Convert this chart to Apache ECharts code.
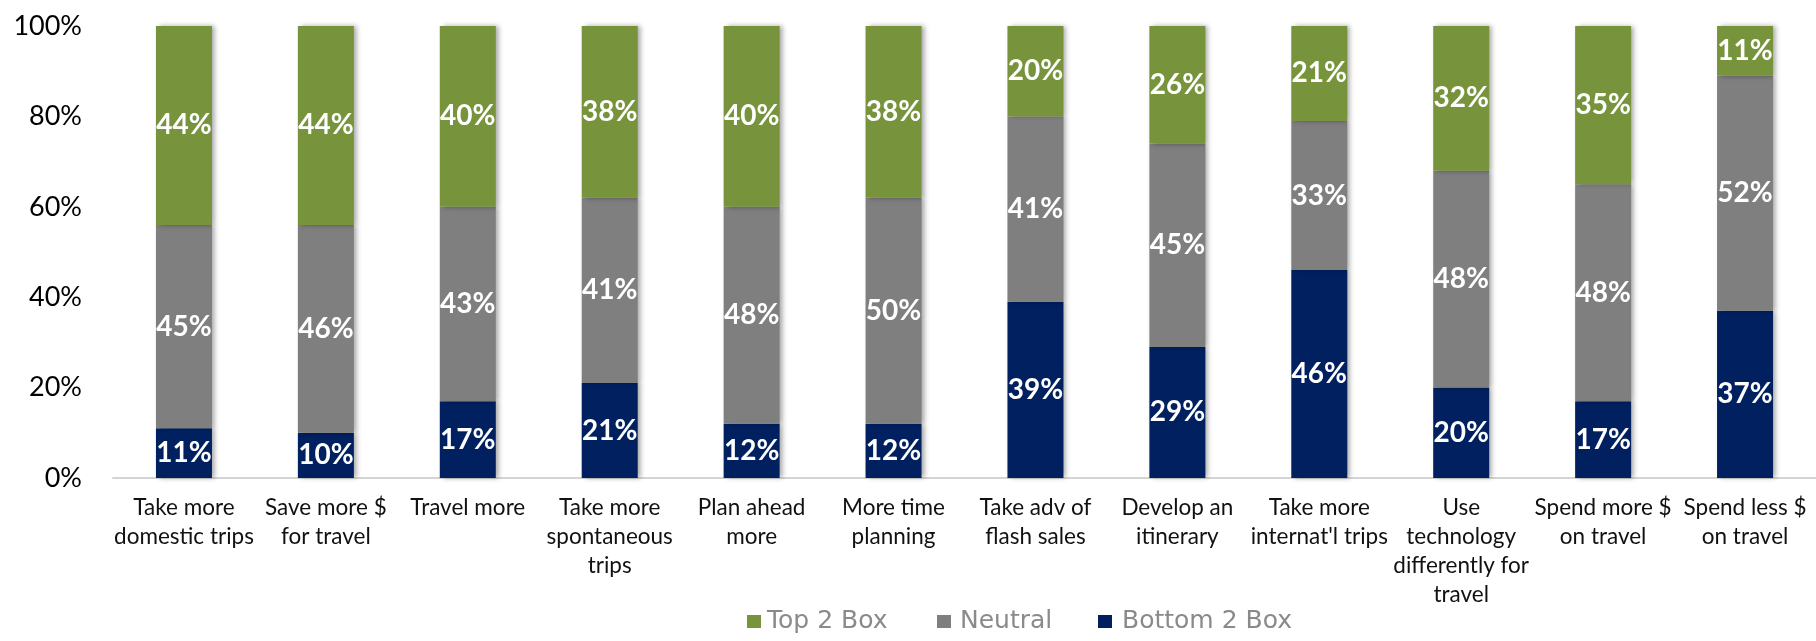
<!DOCTYPE html>
<html>
<head>
<meta charset="utf-8">
<script src="https://cdn.jsdelivr.net/npm/echarts@6/dist/echarts.min.js"></script>
<style>
html,body{margin:0;padding:0;background:#fff;}
#chart{width:1816px;height:641px;}
</style>
</head>
<body>
<div id="chart"></div>
<script>
const categories = [
  "Take more\ndomestic trips",
  "Save more $\nfor travel",
  "Travel more",
  "Take more\nspontaneous\ntrips",
  "Plan ahead\nmore",
  "More time\nplanning",
  "Take adv of\nflash sales",
  "Develop an\nitinerary",
  "Take more\ninternat'l trips",
  "Use\ntechnology\ndifferently for\ntravel",
  "Spend more $\non travel",
  "Spend less $\non travel"
];
const bottom2Box = [11, 10, 17, 21, 12, 12, 39, 29, 46, 20, 17, 37];
const neutral    = [45, 46, 43, 41, 48, 50, 41, 45, 33, 48, 48, 52];
const top2Box    = [44, 44, 40, 38, 40, 38, 20, 26, 21, 32, 35, 11];
const yTicks = [0, 20, 40, 60, 80, 100];

const colors = { top: '#77933C', neutral: '#7F7F7F', bottom: '#002060', legendTop: '#6E9C1A' };
const font = 'Lato, "Open Sans", sans-serif';

function barSeries(name, data, color) {
  return {
    name: name,
    type: 'bar',
    stack: 'total',
    barWidth: 56,
    data: data,
    itemStyle: {
      color: color,
      shadowColor: 'rgba(0,0,0,0.35)',
      shadowBlur: 5,
      shadowOffsetX: 3,
      shadowOffsetY: 0
    },
    label: {
      show: true,
      position: 'inside',
      formatter: '{c}%',
      color: '#ffffff',
      fontFamily: font,
      fontWeight: 'bold',
      fontSize: 28
    }
  };
}

function legendAt(left, name, padLeft) {
  return {
    data: [name],
    left: left,
    top: 609,
    padding: 0,
    itemWidth: 14,
    itemHeight: 13,
    icon: 'rect',
    textStyle: {
      fontFamily: '"DejaVu Sans", "Liberation Sans", Arial, sans-serif',
      fontSize: 25,
      color: '#8a8a8a',
      padding: [0, 0, 0, padLeft]
    }
  };
}

const chart = echarts.init(document.getElementById('chart'), null, { renderer: 'canvas' });
chart.setOption({
  animation: false,
  backgroundColor: '#ffffff',
  grid: { left: 113, right: -6, top: 26, bottom: 163, containLabel: false },
  legend: [
    legendAt(747, 'Top 2 Box', 1),
    legendAt(937, 'Neutral', 4),
    legendAt(1098, 'Bottom 2 Box', 5)
  ],
  xAxis: {
    type: 'category',
    data: categories,
    axisLine: { show: true, lineStyle: { color: '#d4d4d4', width: 2 } },
    axisTick: { show: false },
    axisLabel: {
      interval: 0,
      margin: 15,
      color: '#111111',
      fontFamily: font,
      fontSize: 22.5,
      lineHeight: 29,
      align: 'center'
    }
  },
  yAxis: {
    type: 'value',
    min: yTicks[0],
    max: yTicks[yTicks.length - 1],
    interval: yTicks[1] - yTicks[0],
    splitLine: { show: false },
    axisLine: { show: false },
    axisTick: { show: false },
    axisLabel: {
      margin: 31,
      formatter: '{value}%',
      color: '#000000',
      fontFamily: font,
      fontSize: 27
    }
  },
  series: [
    barSeries('Bottom 2 Box', bottom2Box, colors.bottom),
    barSeries('Neutral', neutral, colors.neutral),
    barSeries('Top 2 Box', top2Box, colors.top)
  ]
});
</script>
</body>
</html>
